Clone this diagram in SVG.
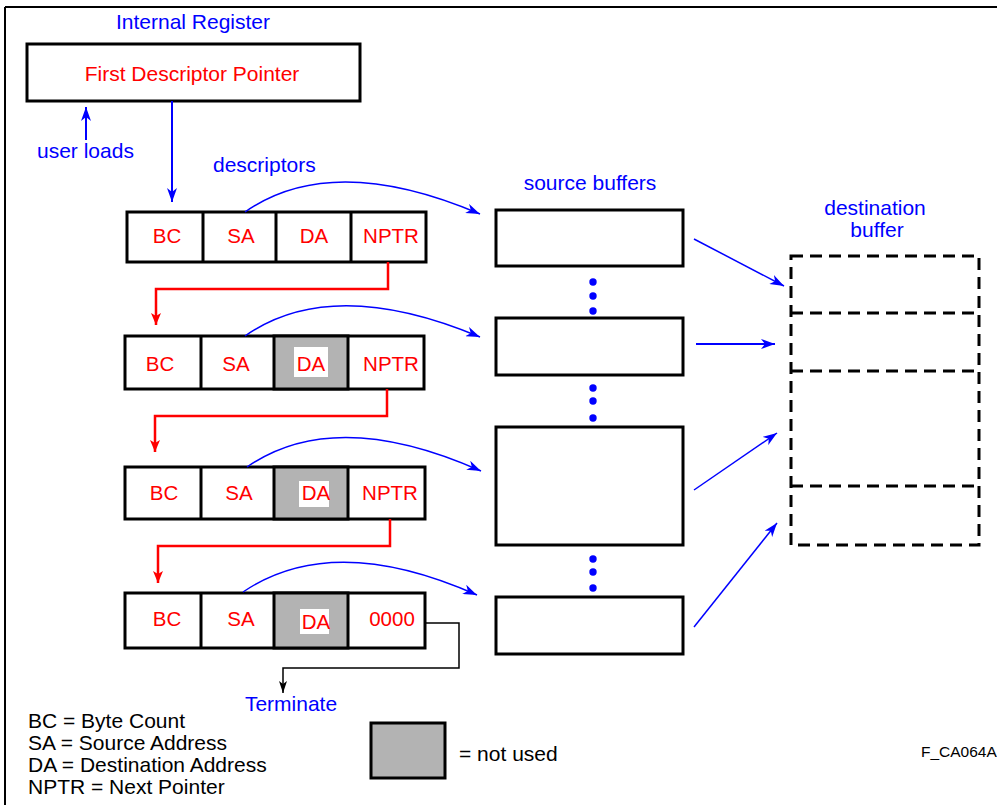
<svg xmlns="http://www.w3.org/2000/svg" width="997" height="805" viewBox="0 0 997 805">
<style>
text{font-family:"Liberation Sans",Arial,sans-serif;font-size:21px}
.c{font-size:20.5px}
.b{fill:#0000ff}.r{fill:#ff0000}.k{fill:#000}
.box{fill:#fff;stroke:#000;stroke-width:3}
.gray{fill:#b3b3b3;stroke:#000;stroke-width:3}
.blue{fill:none;stroke:#0000ff;stroke-width:1.5}
.blue2{fill:none;stroke:#0000ff;stroke-width:2}
.red{fill:none;stroke:#ff0000;stroke-width:2.5}
.blk{fill:none;stroke:#000;stroke-width:1.5}
.dash{fill:none;stroke:#000;stroke-width:3;stroke-dasharray:12 7}
.mid{text-anchor:middle}
</style>
<defs>
<marker id="ab" markerUnits="userSpaceOnUse" markerWidth="16" markerHeight="10" refX="14" refY="5" orient="auto"><path d="M0,0 L14,5 L0,10 L4,5 Z" fill="#0000ff"/></marker>
<marker id="ar" markerUnits="userSpaceOnUse" markerWidth="12" markerHeight="12" refX="12" refY="5" orient="auto"><path d="M0,0 L12,5 L0,10 L3,5 Z" fill="#ff0000"/></marker>
<marker id="ak" markerUnits="userSpaceOnUse" markerWidth="12" markerHeight="10" refX="12" refY="4" orient="auto"><path d="M0,0 L12,4 L0,8 L3,4 Z" fill="#000"/></marker>
</defs>
<rect width="997" height="805" fill="#fff"/>
<path d="M5,7 H997 M5,7 V805" stroke="#000" stroke-width="2" fill="none"/>

<g id="internal-register">
<text x="193" y="29" class="b mid">Internal Register</text>
<rect x="27" y="44" width="333" height="57" class="box"/>
<text x="192" y="81" class="r mid">First Descriptor Pointer</text>
</g>
<text x="37" y="158" class="b">user loads</text>
<text x="213" y="172" class="b">descriptors</text>
<text x="590" y="190" class="b mid">source buffers</text>
<text x="875" y="215" class="b mid">destination</text>
<text x="877" y="237" class="b mid">buffer</text>

<g id="desc1" class="c">
<rect x="127" y="212" width="299" height="50" class="box"/>
<path d="M203,212V262M276,212V262M351,212V262" stroke="#000" stroke-width="3"/>
<text x="167" y="243" class="r mid c">BC</text>
<text x="241" y="243" class="r mid c">SA</text>
<text x="314" y="243" class="r mid c">DA</text>
<text x="391" y="243" class="r mid c">NPTR</text>
</g>
<g id="desc2">
<rect x="125" y="336" width="299" height="53" class="box"/>
<rect x="274" y="336" width="74" height="53" class="gray"/>
<path d="M201,336V389" stroke="#000" stroke-width="3"/>
<rect x="294" y="347" width="34" height="30" fill="#fff"/>
<text x="160" y="371" class="r mid c">BC</text>
<text x="236" y="371" class="r mid c">SA</text>
<text x="311" y="371" class="r mid c">DA</text>
<text x="391" y="371" class="r mid c">NPTR</text>
</g>
<g id="desc3">
<rect x="125" y="467" width="300" height="52" class="box"/>
<rect x="274" y="467" width="74" height="52" class="gray"/>
<path d="M201,467V519" stroke="#000" stroke-width="3"/>
<rect x="299" y="481" width="30" height="26" fill="#fff"/>
<text x="164" y="500" class="r mid c">BC</text>
<text x="239" y="500" class="r mid c">SA</text>
<text x="316" y="500" class="r mid c">DA</text>
<text x="390" y="500" class="r mid c">NPTR</text>
</g>
<g id="desc4">
<rect x="125" y="593" width="300" height="55" class="box"/>
<rect x="274" y="593" width="74" height="55" class="gray"/>
<path d="M201,593V648" stroke="#000" stroke-width="3"/>
<rect x="300" y="609" width="29" height="25" fill="#fff"/>
<text x="167" y="626" class="r mid c">BC</text>
<text x="241" y="626" class="r mid c">SA</text>
<text x="316" y="629" class="r mid c">DA</text>
<text x="392" y="626" class="r mid c">0000</text>
</g>

<g id="source-buffers">
<rect x="496" y="210" width="187" height="56" class="box"/>
<rect x="496" y="318" width="187" height="57" class="box"/>
<rect x="496" y="427" width="187" height="118" class="box"/>
<rect x="496" y="597" width="187" height="57" class="box"/>
<g fill="#0000ff">
<circle cx="593" cy="282" r="3.7"/><circle cx="593" cy="296" r="3.7"/><circle cx="593" cy="311" r="3.7"/>
<circle cx="593" cy="388" r="3.7"/><circle cx="593" cy="401" r="3.7"/><circle cx="593" cy="418" r="3.7"/>
<circle cx="593" cy="559" r="3.7"/><circle cx="593" cy="572" r="3.7"/><circle cx="593" cy="588" r="3.7"/>
</g>
</g>

<g id="destination-buffer">
<rect x="791" y="256" width="188" height="289" class="dash"/>
<path d="M791,313H979M791,371H979M791,486H979" class="dash"/>
</g>

<g id="legend">
<text x="28" y="728" class="k">BC = Byte Count</text>
<text x="28" y="750" class="k">SA = Source Address</text>
<text x="28" y="772" class="k">DA = Destination Address</text>
<text x="28" y="794" class="k">NPTR = Next Pointer</text>
<rect x="371" y="723" width="74" height="55" class="gray"/>
<text x="459" y="761" class="k">= not used</text>
<text x="921" y="757" class="k" style="font-size:15.5px">F_CA064A</text>
</g>
<text x="291" y="711" class="b mid">Terminate</text>

<g id="connectors">
<path d="M86,140V107" class="blue2" marker-end="url(#ab)"/>
<path d="M172,101V202" class="blue2" marker-end="url(#ab)"/>
<path d="M245,212Q332,151 480,214" class="blue" marker-end="url(#ab)"/>
<path d="M245,336Q332,275 480,337" class="blue" marker-end="url(#ab)"/>
<path d="M247,467Q335,406 481,471" class="blue" marker-end="url(#ab)"/>
<path d="M243,592Q333,531 477,595" class="blue" marker-end="url(#ab)"/>
<path d="M388,262V289H156V325" class="red" marker-end="url(#ar)"/>
<path d="M387,389V416H155V452" class="red" marker-end="url(#ar)"/>
<path d="M390,519V546H158V583" class="red" marker-end="url(#ar)"/>
<path d="M425,623H459V668H283V693" class="blk" marker-end="url(#ak)"/>
<path d="M694,239L784,286" class="blue" marker-end="url(#ab)"/>
<path d="M696,344H775" class="blue2" marker-end="url(#ab)"/>
<path d="M694,490L777,433" class="blue" marker-end="url(#ab)"/>
<path d="M694,627L777,523" class="blue" marker-end="url(#ab)"/>
</g>
</svg>
